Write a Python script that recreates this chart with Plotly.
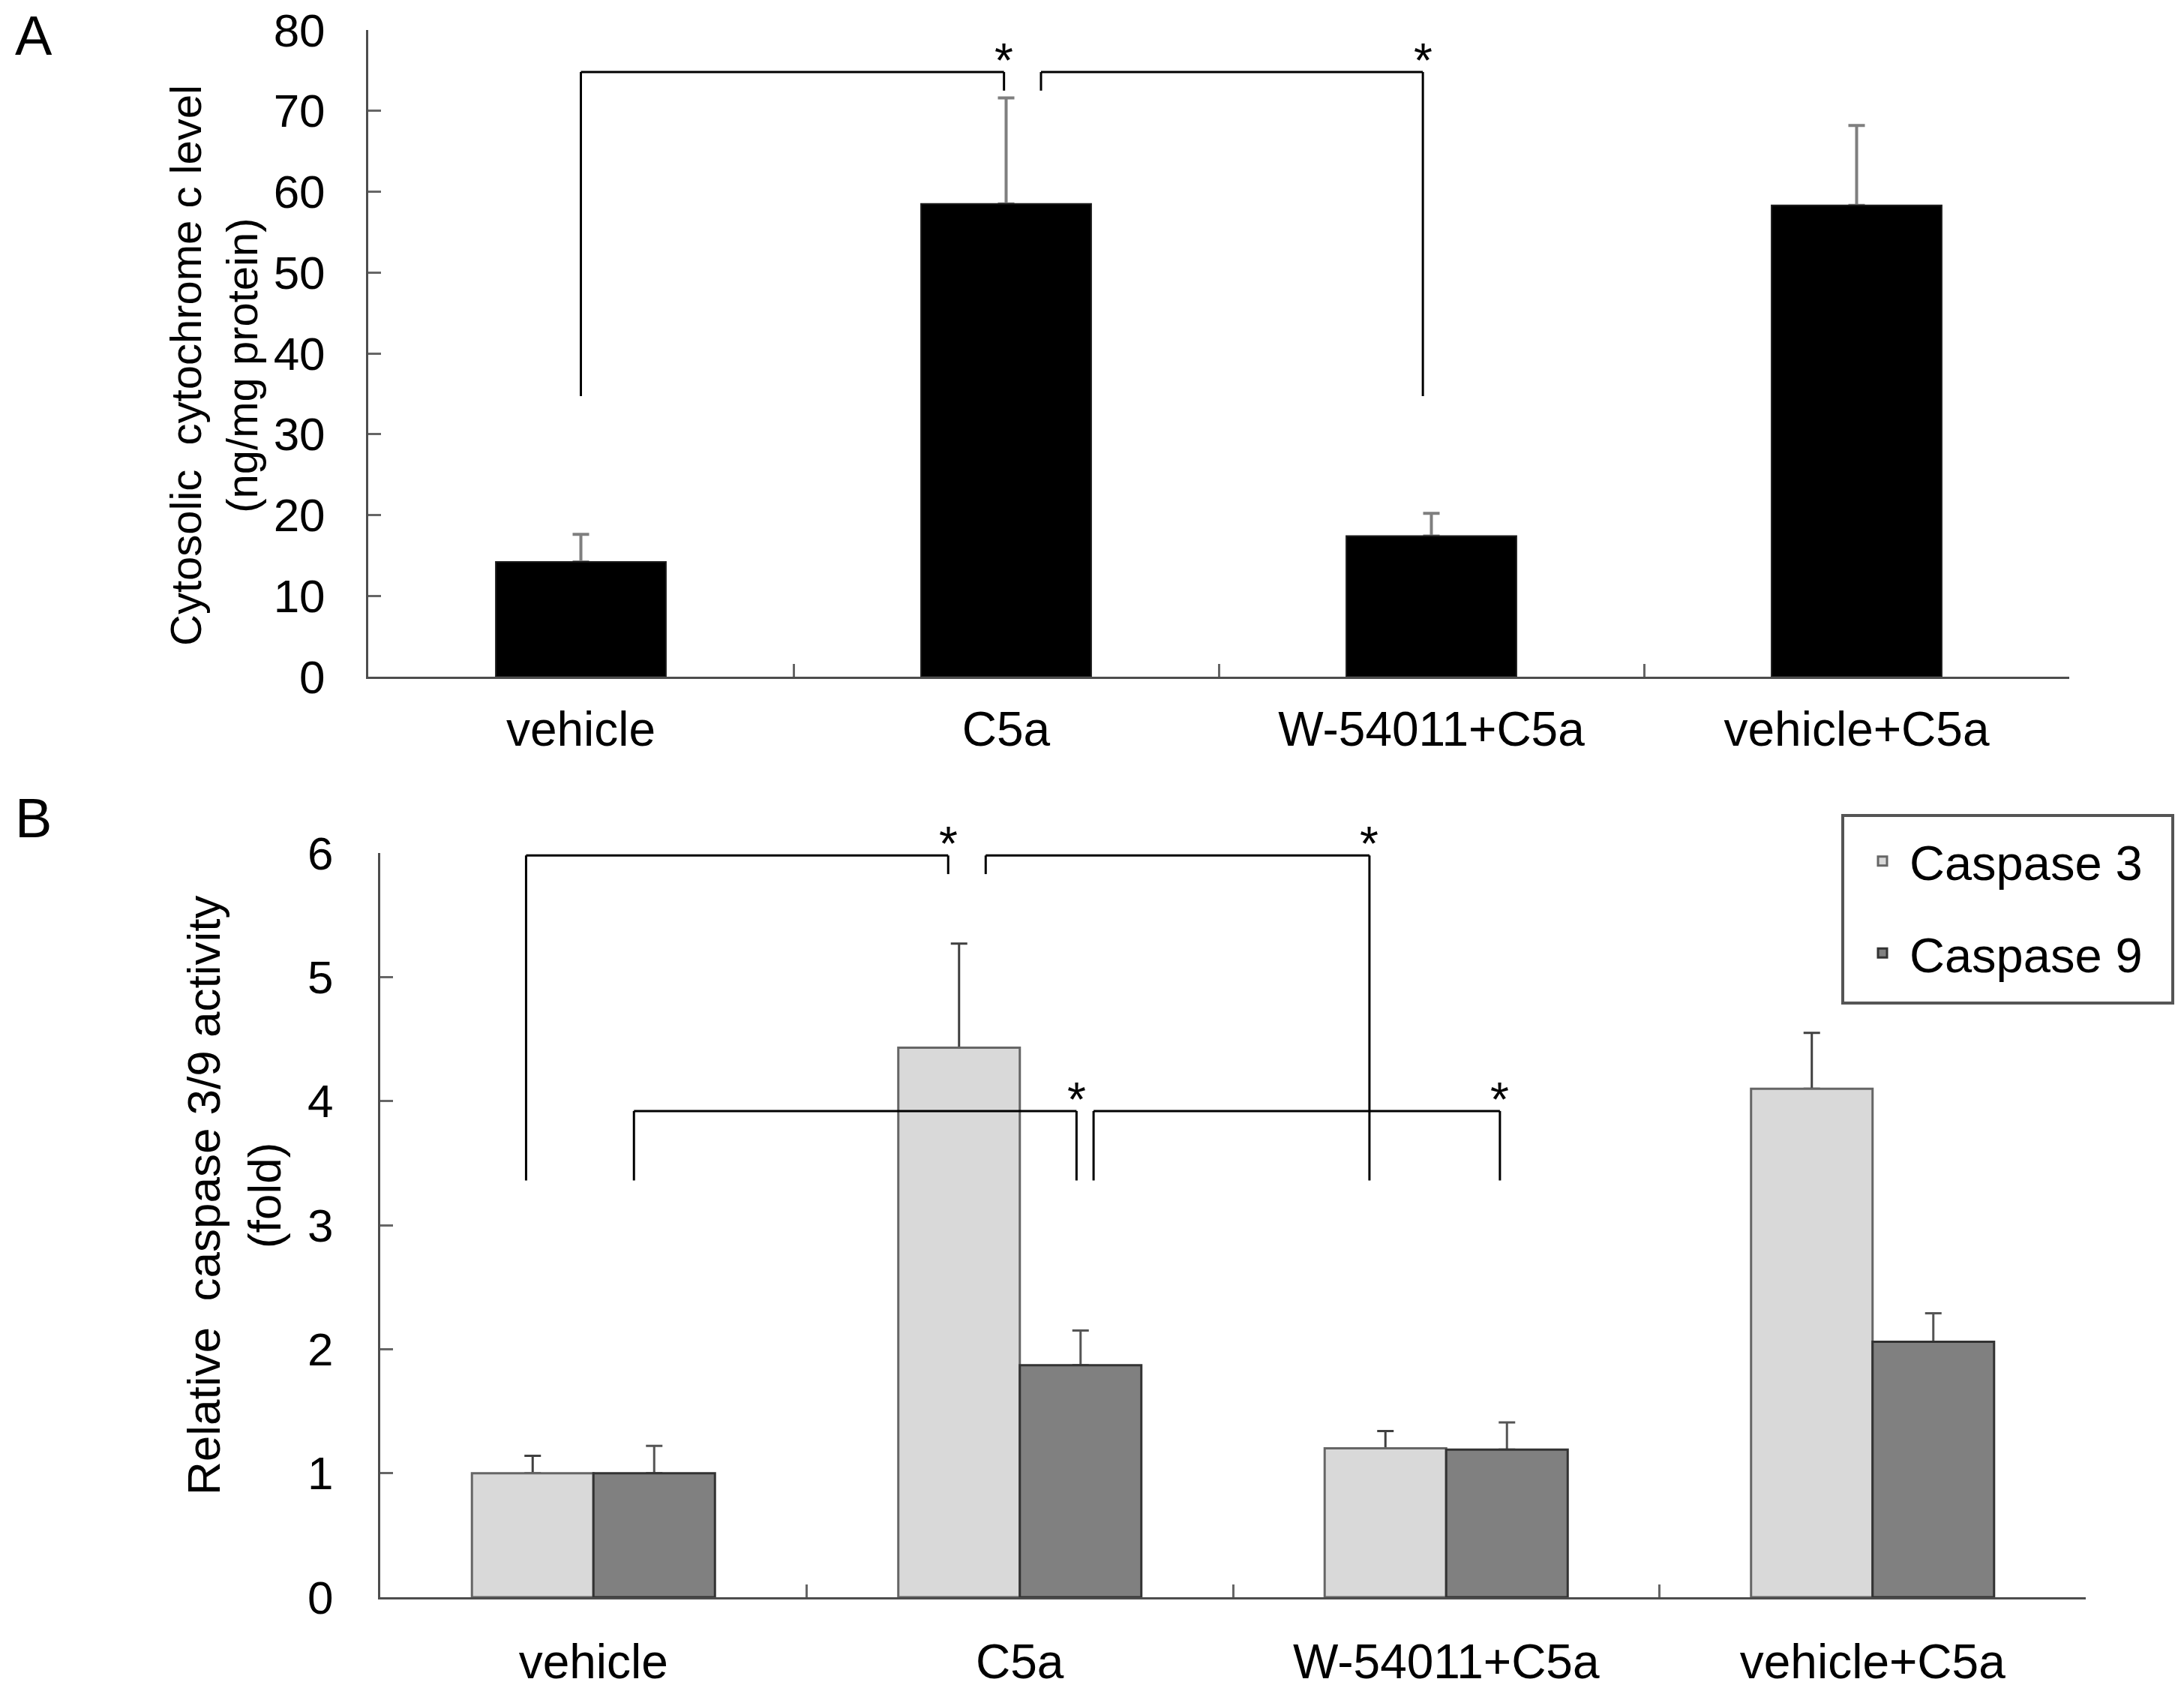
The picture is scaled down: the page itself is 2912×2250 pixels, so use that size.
import plotly.graph_objects as go

# ---------------- data ----------------
categories = ["vehicle", "C5a", "W-54011+C5a", "vehicle+C5a"]

# Panel A: cytosolic cytochrome c (ng/mg protein)
cytc_mean = [14.2, 58.5, 17.4, 58.3]
cytc_err = [3.4, 13.1, 2.8, 9.9]

# Panel B: relative caspase activity (fold)
casp3_mean = [1.0, 4.43, 1.20, 4.10]
casp3_err = [0.14, 0.84, 0.14, 0.45]
casp9_mean = [1.0, 1.87, 1.19, 2.06]
casp9_err = [0.22, 0.28, 0.22, 0.23]

# significance brackets: x_left, x_right, y_top, y_left_end, y_right_end
brackets_a = [
    (0.0, 0.995, 74.8, 34.7, 72.5),
    (1.082, 1.98, 74.8, 72.5, 34.7),
]
brackets_b = [
    (-0.158, 0.832, 5.98, 3.36, 5.83),
    (0.92, 1.82, 5.98, 5.83, 3.36),
    (0.095, 1.133, 3.92, 3.36, 3.36),
    (1.173, 2.126, 3.92, 3.36, 3.36),
]

# ---------------- layout helpers ----------------
W, H = 2912, 2250
FONT = "Liberation Sans, Arial, sans-serif"


def px_x(p):
    return p / W


def px_y(p):
    return 1 - p / H


fig = go.Figure()
CLEAR = "rgba(0,0,0,0)"


def err_carrier(y, err, color, width, offset, xa, ya, thick):
    # transparent bar that only carries the upward error bar (drawn below the visible bar)
    kw = dict(offset=offset) if offset is not None else {}
    fig.add_trace(go.Bar(
        x=categories, y=y, width=width, **kw,
        marker=dict(color=CLEAR, line=dict(color=CLEAR, width=0)),
        error_y=dict(type="data", symmetric=False, array=err,
                     arrayminus=[0] * len(err), color=color,
                     thickness=thick, width=11),
        showlegend=False, hoverinfo="skip", xaxis=xa, yaxis=ya,
    ))


# error-bar carriers first
err_carrier(cytc_mean, cytc_err, "#7f7f7f", 0.4, None, "x", "y", 4)
err_carrier(casp3_mean, casp3_err, "#404040", 0.285, -0.285, "x2", "y2", 3)
err_carrier(casp9_mean, casp9_err, "#555555", 0.285, 0, "x2", "y2", 3)

# Panel A bars
fig.add_trace(go.Bar(
    x=categories, y=cytc_mean, width=0.4,
    marker=dict(color="#000000", line=dict(color="#1a1a1a", width=2)),
    showlegend=False, xaxis="x", yaxis="y",
))

# Panel B bars
fig.add_trace(go.Bar(
    x=categories, y=casp3_mean, width=0.285, offset=-0.285,
    name="Caspase 3", legendgroup="c3",
    marker=dict(color="#d9d9d9", line=dict(color="#666666", width=3)),
    xaxis="x2", yaxis="y2",
))
fig.add_trace(go.Bar(
    x=categories, y=casp9_mean, width=0.285, offset=0,
    name="Caspase 9", legendgroup="c9",
    marker=dict(color="#808080", line=dict(color="#333333", width=3)),
    xaxis="x2", yaxis="y2",
))

shapes = []
annotations = []


def add_brackets(brackets, xref, yref):
    for (xl, xr, yt, yl, yr) in brackets:
        line = dict(color="#000000", width=3)
        shapes.append(dict(type="line", xref=xref, yref=yref, x0=xl, x1=xl, y0=yl, y1=yt, line=line))
        shapes.append(dict(type="line", xref=xref, yref=yref, x0=xl, x1=xr, y0=yt, y1=yt, line=line))
        shapes.append(dict(type="line", xref=xref, yref=yref, x0=xr, x1=xr, y0=yt, y1=yr, line=line))
        annotations.append(dict(text="*", xref=xref, yref=yref, x=xr, y=yt,
                                xanchor="center", yanchor="middle", yshift=15,
                                showarrow=False, font=dict(family=FONT, size=64, color="#000")))


add_brackets(brackets_a, "x", "y")
add_brackets(brackets_b, "x2", "y2")

# legend frame
shapes.append(dict(type="rect", xref="paper", yref="paper",
                   x0=px_x(2457), x1=px_x(2897), y0=px_y(1337), y1=px_y(1087),
                   line=dict(color="#555555", width=4), fillcolor="rgba(0,0,0,0)"))

# axis titles and panel labels
annotations.append(dict(text="Cytosolic  cytochrome c level<br>(ng/mg protein)",
                        xref="paper", yref="paper", x=px_x(285), y=px_y(487),
                        xanchor="center", yanchor="middle", textangle=-90, showarrow=False,
                        font=dict(family=FONT, size=58, color="#000")))
annotations.append(dict(text="Relative  caspase 3/9 activity<br>(fold)",
                        xref="paper", yref="paper", x=px_x(312), y=px_y(1593),
                        xanchor="center", yanchor="middle", textangle=-90, showarrow=False,
                        font=dict(family=FONT, size=62, color="#000")))
annotations.append(dict(text="A", xref="paper", yref="paper", x=px_x(18), y=px_y(4),
                        xanchor="left", yanchor="top", showarrow=False,
                        font=dict(family=FONT, size=74, color="#000")))
annotations.append(dict(text="B", xref="paper", yref="paper", x=px_x(18), y=px_y(1047),
                        xanchor="left", yanchor="top", showarrow=False,
                        font=dict(family=FONT, size=74, color="#000")))

axis_common = dict(showgrid=False, zeroline=False, showline=True, linecolor="#4d4d4d",
                   linewidth=3, ticks="inside", ticklen=17, tickwidth=3, tickcolor="#666666",
                   automargin=False)
xfont = dict(family=FONT, size=64, color="#000")
yfont = dict(family=FONT, size=62, color="#000")

fig.update_layout(
    template="none",
    width=W, height=H,
    margin=dict(l=0, r=0, t=0, b=0, pad=0, autoexpand=False),
    paper_bgcolor="white", plot_bgcolor="white",
    barmode="overlay",
    font=dict(family=FONT, size=60, color="#000"),
    xaxis=dict(axis_common, domain=[px_x(491), px_x(2759)], anchor="y", type="category",
               tickson="boundaries", range=[-0.5, 3.5], ticklabelstandoff=12, tickfont=xfont),
    yaxis=dict(axis_common, domain=[px_y(902), px_y(40)], anchor="x", range=[0, 80],
               dtick=10, ticklabelstandoff=42, tickfont=yfont),
    xaxis2=dict(axis_common, domain=[px_x(507), px_x(2781)], anchor="y2", type="category",
                tickson="boundaries", range=[-0.5, 3.5], ticklabelstandoff=28, tickfont=xfont),
    yaxis2=dict(axis_common, domain=[px_y(2129), px_y(1137)], anchor="x2", range=[0, 6],
                dtick=1, ticklabelstandoff=47, tickfont=yfont),
    showlegend=True,
    legend=dict(x=px_x(2474), y=px_y(1099), xanchor="left", yanchor="top",
                borderwidth=0, bgcolor="rgba(0,0,0,0)",
                font=dict(family=FONT, size=65, color="#000"),
                traceorder="grouped", tracegroupgap=35, itemwidth=62),
    shapes=shapes,
    annotations=annotations,
)

fig.write_html("out.html", config={"displayModeBar": False},
               post_script="document.body.style.margin='0';")
